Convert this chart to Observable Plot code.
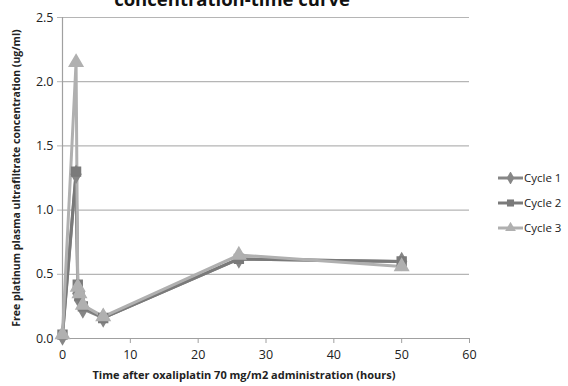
<!DOCTYPE html>
<html>
<head>
<meta charset="utf-8">
<script src="https://cdn.jsdelivr.net/npm/d3@7"></script>
<script src="https://cdn.jsdelivr.net/npm/@observablehq/plot@0.6"></script>
<style>
  html, body { margin: 0; padding: 0; background: #fff; overflow: hidden; }
  #wrap { position: relative; width: 568px; height: 386px; font-family: "Open Sans", sans-serif; }
  #title { position: absolute; left: 0; width: 464px; text-align: center; top: -14px; font-weight: bold; font-size: 18.5px; color: #111; white-space: nowrap; }
  #legend { position: absolute; left: 498px; top: 165px; font-size: 11.5px; color: #222; }
  #legend div { height: 25px; display: flex; align-items: center; }
  #legend svg { margin-right: 1px; }
</style>
</head>
<body>
<div id="wrap">
  <div id="chart"></div>
  <div id="title">concentration-time curve</div>
  <div id="legend"></div>
</div>
<script>
const times = [0, 2, 2.25, 2.5, 3, 6, 26, 50];
const cycle1 = [0.02, 1.28, 0.35, 0.30, 0.23, 0.16, 0.62, 0.60];
const cycle2 = [0.03, 1.30, 0.42, 0.33, 0.25, 0.16, 0.62, 0.60];
const cycle3 = [0.03, 2.15, 0.40, 0.35, 0.26, 0.17, 0.65, 0.56];
const seriesNames = ["Cycle 1", "Cycle 2", "Cycle 3"];
const seriesColors = ["#868686", "#7a7a7a", "#b0b0b0"];
const seriesSymbols = ["diamond", "square", "triangle"];
const yTicks = [0, 0.5, 1.0, 1.5, 2.0, 2.5];
const xTicks = [0, 10, 20, 30, 40, 50, 60];
const xLabel = "Time after oxaliplatin 70 mg/m2 administration (hours)";
const yLabel = "Free platinum plasma ultrafiltrate concentration (ug/ml)";

const allSeries = [cycle1, cycle2, cycle3];
const data = [];
allSeries.forEach((vals, s) => vals.forEach((v, i) => data.push({series: seriesNames[s], t: times[i], v})));

const plot = Plot.plot({
  width: 568,
  height: 386,
  marginLeft: 62,
  marginRight: 99,
  marginTop: 17,
  marginBottom: 48,
  style: {fontFamily: "Open Sans, sans-serif", fontSize: "12.5px", color: "#222", background: "#fff"},
  x: {domain: [0, 60], ticks: xTicks},
  y: {domain: [0, 2.5], ticks: yTicks},
  color: {domain: seriesNames, range: seriesColors},
  symbol: {domain: seriesNames, range: seriesSymbols},
  marks: [
    Plot.gridY(yTicks.filter(d => d > 0), {stroke: "#b5b5b5", strokeOpacity: 1, strokeWidth: 1.2}),
    Plot.ruleX([0], {stroke: "#a0a0a0", strokeWidth: 1.2}),
    Plot.ruleY([0], {stroke: "#a0a0a0", strokeWidth: 1.2}),
    Plot.axisY({ticks: yTicks, tickFormat: d => d.toFixed(1), tickSize: 5, tickPadding: 4, stroke: "#b5b5b5",
      label: yLabel, labelAnchor: "center", labelArrow: "none", labelOffset: 50, fontSize: 12.5}),
    Plot.axisX({ticks: xTicks, tickFormat: d => String(d), tickSize: 5, tickPadding: 7, stroke: "#a0a0a0",
      label: null, fontSize: 12.5}),
    Plot.text([xLabel], {frameAnchor: "bottom", dx: -22, dy: 40, fontWeight: "bold", fontSize: 11, fill: "#222"}),
    Plot.line(data, {x: "t", y: "v", z: "series", stroke: "series", strokeWidth: 3}),
    Plot.dot(data, {x: "t", y: "v", symbol: "series", fill: "series", stroke: "series", r: 5})
  ]
});
d3.select(plot).selectAll("g[aria-label='y-axis label'] text").attr("font-weight", "bold").attr("font-size", 10.5);
document.getElementById("chart").appendChild(plot);

const legend = d3.select("#legend");
seriesNames.forEach((name, i) => {
  const row = legend.append("div");
  const svg = row.append("svg").attr("width", 25).attr("height", 12);
  svg.append("line").attr("x1", 0).attr("x2", 25).attr("y1", 6).attr("y2", 6).attr("stroke", seriesColors[i]).attr("stroke-width", 3);
  const sym = d3.symbol().type([d3.symbolDiamond, d3.symbolSquare, d3.symbolTriangle][i]).size(50);
  svg.append("path").attr("d", sym()).attr("transform", "translate(12.5,6)").attr("fill", seriesColors[i]);
  row.append("span").text(name);
});
</script>
</body>
</html>
